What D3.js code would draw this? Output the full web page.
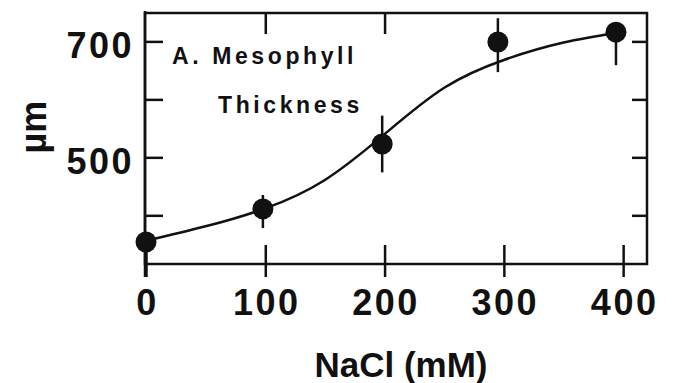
<!DOCTYPE html>
<html>
<head>
<meta charset="utf-8">
<script src="https://cdn.jsdelivr.net/npm/d3@7"></script>
<style>
  body { margin: 0; background: #fff; }
  svg { display: block; font-family: "Liberation Sans", Arial, sans-serif; }
</style>
</head>
<body>
<div id="chart"></div>
<script>
// measured points (NaCl mM vs mesophyll thickness um)
var naclValues = [0, 98, 198, 295, 394];
var thickValues = [354, 411, 523, 699, 716];
var errUp = [0, 24, 49, 41, 0];
var errDown = [0, 33, 49, 52, 57];

// fitted curve
var curveX = [0, 50, 100, 150, 200, 250, 300, 350, 395];
var curveY = [356, 381, 412, 461, 540, 620, 668, 698, 715];

var xTicks = [0, 100, 200, 300, 400];
var xTopTicks = [100, 200];
var yTicks = [400, 500, 600, 700];
var yLabels = [500, 700];

(function() {
  var width = 673, height = 383;
  var pl = 145, pr = 647, pt = 13, pb = 264;
  var ink = '#111';

  var svg = d3.select('#chart').append('svg')
    .attr('width', width).attr('height', height);

  var xx = d3.scaleLinear().domain([0, 420]).range([pl + 1, pr]);
  var yy = d3.scaleLinear().domain([316, 749]).range([pb, pt]);

  function styleAxis(g) {
    g.selectAll('path').remove();
    g.selectAll('line').attr('stroke', ink).attr('stroke-width', 2.5);
    g.selectAll('text').attr('fill', ink).attr('font-size', 36)
      .attr('font-weight', 'bold').attr('letter-spacing', 2.5);
  }

  // frame
  svg.append('rect')
    .attr('x', pl).attr('y', pt)
    .attr('width', pr - pl).attr('height', pb - pt)
    .attr('fill', 'none').attr('stroke', ink).attr('stroke-width', 2.5);
  // left axis sticks out a bit at both ends
  svg.append('line')
    .attr('x1', pl).attr('x2', pl).attr('y1', pt - 2).attr('y2', pb + 13)
    .attr('stroke', ink).attr('stroke-width', 2.5);

  // bottom axis: ticks cross the line
  svg.append('g').attr('transform', 'translate(0,' + pb + ')')
    .call(d3.axisBottom(xx).tickValues(xTicks).tickSize(13).tickPadding(12)
      .tickFormat(d3.format('d')))
    .call(styleAxis)
    .selectAll('text').attr('dx', 1);
  svg.append('g').attr('transform', 'translate(0,' + pb + ')')
    .call(d3.axisBottom(xx).tickValues(xTicks).tickSize(-19).tickFormat(''))
    .call(styleAxis);

  // top ticks
  svg.append('g').attr('transform', 'translate(0,' + pt + ')')
    .call(d3.axisTop(xx).tickValues(xTopTicks).tickSize(-21).tickFormat(''))
    .call(styleAxis);

  // left axis, inward ticks
  svg.append('g').attr('transform', 'translate(' + pl + ',0)')
    .call(d3.axisLeft(yy).tickValues(yTicks).tickSize(-18).tickPadding(11)
      .tickFormat(function(d) { return yLabels.indexOf(d) >= 0 ? d : ''; }))
    .call(styleAxis)
    .selectAll('text').attr('dy', '0.38em').attr('y', 2);

  // right axis, inward ticks
  svg.append('g').attr('transform', 'translate(' + pr + ',0)')
    .call(d3.axisRight(yy).tickValues(yTicks).tickSize(-15).tickFormat(''))
    .call(styleAxis);

  // fitted curve
  var line = d3.line()
    .x(function(d) { return xx(d[0]); })
    .y(function(d) { return yy(d[1]); })
    .curve(d3.curveNatural);
  svg.append('path')
    .datum(d3.zip(curveX, curveY))
    .attr('d', line)
    .attr('fill', 'none').attr('stroke', ink).attr('stroke-width', 2.5);

  // error bars and points
  var pts = naclValues.map(function(v, i) {
    return { x: v, y: thickValues[i], up: errUp[i], down: errDown[i] };
  });
  svg.append('g').selectAll('line').data(pts).enter().append('line')
    .attr('x1', function(d) { return xx(d.x); })
    .attr('x2', function(d) { return xx(d.x); })
    .attr('y1', function(d) { return yy(d.y + d.up); })
    .attr('y2', function(d) { return yy(d.y - d.down); })
    .attr('stroke', ink).attr('stroke-width', 2.5);
  svg.append('g').selectAll('circle').data(pts).enter().append('circle')
    .attr('cx', function(d) { return xx(d.x); })
    .attr('cy', function(d) { return yy(d.y); })
    .attr('r', 10.5)
    .attr('fill', ink);

  // panel label
  var note = svg.append('g').attr('fill', ink).attr('font-size', 23)
    .attr('font-weight', 'bold').attr('letter-spacing', 3.6);
  note.append('text').attr('x', 172).attr('y', 64).text('A. Mesophyll');
  note.append('text').attr('x', 218).attr('y', 113).text('Thickness');

  // axis titles
  svg.append('text')
    .attr('x', 401).attr('y', 377)
    .attr('text-anchor', 'middle')
    .attr('font-size', 35).attr('font-weight', 'bold').attr('fill', ink)
    .text('NaCl (mM)');
  svg.append('text')
    .attr('transform', 'translate(46,127)rotate(-90)')
    .attr('text-anchor', 'middle')
    .attr('font-size', 36).attr('font-weight', 'bold').attr('fill', ink)
    .text('µm');
})();
</script>
</body>
</html>
